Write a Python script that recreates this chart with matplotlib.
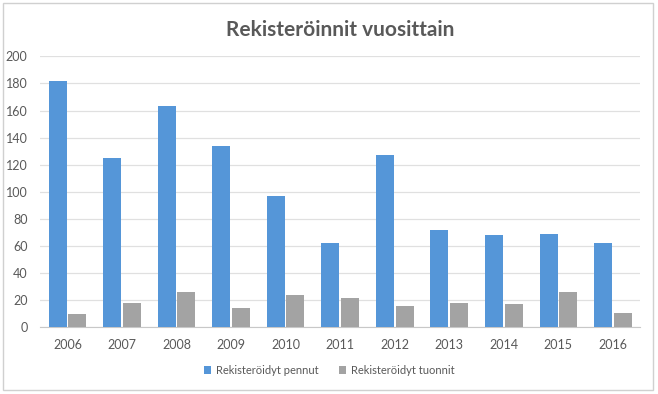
import numpy as np
import matplotlib.pyplot as plt
from matplotlib.patches import Rectangle

plt.rcParams['font.family'] = ['Lato', 'DejaVu Sans']

years = ['2006', '2007', '2008', '2009', '2010', '2011',
         '2012', '2013', '2014', '2015', '2016']
pennut = [182, 125, 163, 134, 97, 62, 127, 72, 68, 69, 62]
tuonnit = [10, 18, 26, 14, 24, 22, 16, 18, 17, 26, 11]
yticks = [0, 20, 40, 60, 80, 100, 120, 140, 160, 180, 200]

fig = plt.figure(figsize=(6.58, 3.94), dpi=100)
ax = fig.add_axes([0.061, 0.169, 0.912, 0.688])

x = np.arange(len(years))
w = 0.33
gap = 0.03
ax.bar(x - w / 2 - gap / 2, pennut, w, color='#5596D8', label='Rekisteröidyt pennut', zorder=3)
ax.bar(x + w / 2 + gap / 2, tuonnit, w, color='#A3A3A3', label='Rekisteröidyt tuonnit', zorder=3)

ax.set_xlim(-0.5, len(years) - 0.5)
ax.set_ylim(0, 200)
ax.set_yticks(yticks)
ax.set_xticks(x)
ax.set_xticklabels(years)
ax.tick_params(length=0, colors='#595959', labelsize=9)
ax.tick_params(axis='y', pad=9)
ax.tick_params(axis='x', pad=8)
ax.grid(axis='y', color='#E0E0E0', linewidth=0.9, zorder=0)
for s in ['top', 'right', 'left']:
    ax.spines[s].set_visible(False)
ax.spines['bottom'].set_color('#C8C8C8')

ax.set_title('Rekisteröinnit vuosittain', fontsize=15, fontweight='bold',
             color='#595959', pad=15)

leg = fig.legend(loc='center', bbox_to_anchor=(0.5, 0.06), ncol=2, frameon=False,
                 fontsize=8, handlelength=0.7, handleheight=0.7, columnspacing=1.8,
                 handletextpad=0.4)
for t in leg.get_texts():
    t.set_color('#595959')

fig.patches.append(Rectangle((0.004, 0.01), 0.988, 0.983, transform=fig.transFigure,
                             fill=False, edgecolor='#D0D0D0', linewidth=1))

fig.savefig('out.png', dpi=100)
